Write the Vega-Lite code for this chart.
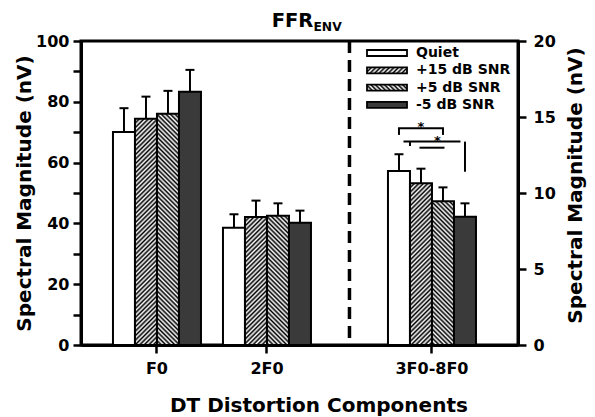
{
  "$schema": "https://vega.github.io/schema/vega-lite/v6.json",
  "autosize": {"type": "none"},
  "width": 437,
  "height": 304,
  "padding": {"left": 81, "top": 41, "right": 77, "bottom": 72},
  "background": "white",
  "params": [
    {"name": "stripes", "value": [{"offset":0,"color":"#000"},{"offset":0.0083,"color":"#fff"},{"offset":0.0167,"color":"#000"},{"offset":0.025,"color":"#fff"},{"offset":0.0333,"color":"#000"},{"offset":0.0417,"color":"#fff"},{"offset":0.05,"color":"#000"},{"offset":0.0583,"color":"#fff"},{"offset":0.0667,"color":"#000"},{"offset":0.075,"color":"#fff"},{"offset":0.0833,"color":"#000"},{"offset":0.0917,"color":"#fff"},{"offset":0.1,"color":"#000"},{"offset":0.1083,"color":"#fff"},{"offset":0.1167,"color":"#000"},{"offset":0.125,"color":"#fff"},{"offset":0.1333,"color":"#000"},{"offset":0.1417,"color":"#fff"},{"offset":0.15,"color":"#000"},{"offset":0.1583,"color":"#fff"},{"offset":0.1667,"color":"#000"},{"offset":0.175,"color":"#fff"},{"offset":0.1833,"color":"#000"},{"offset":0.1917,"color":"#fff"},{"offset":0.2,"color":"#000"},{"offset":0.2083,"color":"#fff"},{"offset":0.2167,"color":"#000"},{"offset":0.225,"color":"#fff"},{"offset":0.2333,"color":"#000"},{"offset":0.2417,"color":"#fff"},{"offset":0.25,"color":"#000"},{"offset":0.2583,"color":"#fff"},{"offset":0.2667,"color":"#000"},{"offset":0.275,"color":"#fff"},{"offset":0.2833,"color":"#000"},{"offset":0.2917,"color":"#fff"},{"offset":0.3,"color":"#000"},{"offset":0.3083,"color":"#fff"},{"offset":0.3167,"color":"#000"},{"offset":0.325,"color":"#fff"},{"offset":0.3333,"color":"#000"},{"offset":0.3417,"color":"#fff"},{"offset":0.35,"color":"#000"},{"offset":0.3583,"color":"#fff"},{"offset":0.3667,"color":"#000"},{"offset":0.375,"color":"#fff"},{"offset":0.3833,"color":"#000"},{"offset":0.3917,"color":"#fff"},{"offset":0.4,"color":"#000"},{"offset":0.4083,"color":"#fff"},{"offset":0.4167,"color":"#000"},{"offset":0.425,"color":"#fff"},{"offset":0.4333,"color":"#000"},{"offset":0.4417,"color":"#fff"},{"offset":0.45,"color":"#000"},{"offset":0.4583,"color":"#fff"},{"offset":0.4667,"color":"#000"},{"offset":0.475,"color":"#fff"},{"offset":0.4833,"color":"#000"},{"offset":0.4917,"color":"#fff"},{"offset":0.5,"color":"#000"},{"offset":0.5083,"color":"#fff"},{"offset":0.5167,"color":"#000"},{"offset":0.525,"color":"#fff"},{"offset":0.5333,"color":"#000"},{"offset":0.5417,"color":"#fff"},{"offset":0.55,"color":"#000"},{"offset":0.5583,"color":"#fff"},{"offset":0.5667,"color":"#000"},{"offset":0.575,"color":"#fff"},{"offset":0.5833,"color":"#000"},{"offset":0.5917,"color":"#fff"},{"offset":0.6,"color":"#000"},{"offset":0.6083,"color":"#fff"},{"offset":0.6167,"color":"#000"},{"offset":0.625,"color":"#fff"},{"offset":0.6333,"color":"#000"},{"offset":0.6417,"color":"#fff"},{"offset":0.65,"color":"#000"},{"offset":0.6583,"color":"#fff"},{"offset":0.6667,"color":"#000"},{"offset":0.675,"color":"#fff"},{"offset":0.6833,"color":"#000"},{"offset":0.6917,"color":"#fff"},{"offset":0.7,"color":"#000"},{"offset":0.7083,"color":"#fff"},{"offset":0.7167,"color":"#000"},{"offset":0.725,"color":"#fff"},{"offset":0.7333,"color":"#000"},{"offset":0.7417,"color":"#fff"},{"offset":0.75,"color":"#000"},{"offset":0.7583,"color":"#fff"},{"offset":0.7667,"color":"#000"},{"offset":0.775,"color":"#fff"},{"offset":0.7833,"color":"#000"},{"offset":0.7917,"color":"#fff"},{"offset":0.8,"color":"#000"},{"offset":0.8083,"color":"#fff"},{"offset":0.8167,"color":"#000"},{"offset":0.825,"color":"#fff"},{"offset":0.8333,"color":"#000"},{"offset":0.8417,"color":"#fff"},{"offset":0.85,"color":"#000"},{"offset":0.8583,"color":"#fff"},{"offset":0.8667,"color":"#000"},{"offset":0.875,"color":"#fff"},{"offset":0.8833,"color":"#000"},{"offset":0.8917,"color":"#fff"},{"offset":0.9,"color":"#000"},{"offset":0.9083,"color":"#fff"},{"offset":0.9167,"color":"#000"},{"offset":0.925,"color":"#fff"},{"offset":0.9333,"color":"#000"},{"offset":0.9417,"color":"#fff"},{"offset":0.95,"color":"#000"},{"offset":0.9583,"color":"#fff"},{"offset":0.9667,"color":"#000"},{"offset":0.975,"color":"#fff"},{"offset":0.9833,"color":"#000"},{"offset":0.9917,"color":"#fff"},{"offset":1,"color":"#000"}]}
  ],
  "title": {
    "text": "FFR",
    "frame": "group",
    "anchor": "middle",
    "align": "left",
    "baseline": "bottom",
    "dx": -27.8,
    "dy": 30,
    "offset": 0,
    "font": "DejaVu Sans",
    "fontSize": 19.5,
    "fontWeight": "bold",
    "color": "black"
  },
  "config": {
    "view": {"stroke": "black", "strokeWidth": 3},
    "font": "DejaVu Sans",
    "axis": {
      "grid": false,
      "domainColor": "black",
      "domainWidth": 3,
      "tickColor": "black",
      "tickWidth": 2.5,
      "tickSize": 8,
      "labelColor": "black",
      "labelFont": "DejaVu Sans",
      "labelFontWeight": "bold",
      "labelFontSize": 16,
      "titleColor": "black",
      "titleFont": "DejaVu Sans",
      "titleFontWeight": "bold",
      "titleFontSize": 20
    }
  },
  "datasets": {
    "leftbars": [
      {"component": "F0", "condition": "Quiet", "value": 70.1, "hi": 77.9},
      {"component": "F0", "condition": "+15 dB SNR", "value": 74.4, "hi": 81.7},
      {"component": "F0", "condition": "+5 dB SNR", "value": 76.1, "hi": 83.6},
      {"component": "F0", "condition": "-5 dB SNR", "value": 83.3, "hi": 90.5},
      {"component": "2F0", "condition": "Quiet", "value": 38.6, "hi": 43.0},
      {"component": "2F0", "condition": "+15 dB SNR", "value": 42.1, "hi": 47.5},
      {"component": "2F0", "condition": "+5 dB SNR", "value": 42.5, "hi": 46.6},
      {"component": "2F0", "condition": "-5 dB SNR", "value": 40.2, "hi": 44.2}
    ],
    "rightbars": [
      {"component": "3F0-8F0", "condition": "Quiet", "value": 11.45, "hi": 12.55},
      {"component": "3F0-8F0", "condition": "+15 dB SNR", "value": 10.64, "hi": 11.6},
      {"component": "3F0-8F0", "condition": "+5 dB SNR", "value": 9.45, "hi": 10.37},
      {"component": "3F0-8F0", "condition": "-5 dB SNR", "value": 8.44, "hi": 9.32}
    ],
    "annot": [
      {"part": "leg", "component": "3F0-8F0", "condition": "Quiet", "value": 13.82, "hi": 14.26},
      {"part": "leg", "component": "3F0-8F0", "condition": "+5 dB SNR", "value": 13.82, "hi": 14.26},
      {"part": "leg", "component": "3F0-8F0", "condition": "-5 dB SNR", "value": 11.4, "hi": 13.38},
      {"part": "legB", "component": "3F0-8F0", "condition": "Quiet", "value": 13.09, "hi": 13.38},
      {"part": "bar1", "component": "3F0-8F0", "condition": "+15 dB SNR", "value": 14.26},
      {"part": "bar2", "component": "3F0-8F0", "condition": "+5 dB SNR", "value": 13.38},
      {"part": "bar3", "component": "3F0-8F0", "condition": "Quiet", "value": 12.98},
      {"part": "star1", "component": "3F0-8F0", "condition": "+15 dB SNR", "value": 14.26},
      {"part": "star2", "component": "3F0-8F0", "condition": "+5 dB SNR", "value": 13.38},
      {"part": "env", "component": "2F0", "value": 20}
    ]
  },
  "layer": [
    {
      "data": {"name": "leftbars"},
      "encoding": {
        "x": {
          "field": "component", "type": "nominal",
          "scale": {"type": "band", "domain": ["F0", "s1", "2F0", "s2", "s3", "3F0-8F0"], "paddingInner": 0, "paddingOuter": 0.9727, "align": 0.453},
          "axis": {"values": ["F0", "2F0", "3F0-8F0"], "title": "DT Distortion Components", "labelAngle": 0, "labelPadding": 7, "titlePadding": 19, "titleX": 237.4}
        },
        "xOffset": {
          "field": "condition", "type": "nominal",
          "scale": {"domain": ["Quiet", "+15 dB SNR", "+5 dB SNR", "-5 dB SNR"], "range": [-16.5, 71.5], "paddingInner": 0, "paddingOuter": 0}
        },
        "y": {
          "field": "value", "type": "quantitative", "stack": null,
          "scale": {"domain": [0, 100], "nice": false},
          "axis": {"orient": "left", "values": [0, 10, 20, 30, 40, 50, 60, 70, 80, 90, 100], "labelExpr": "datum.value % 20 === 0 ? datum.label : ''", "title": "Spectral Magnitude (nV)", "labelPadding": 4, "titlePadding": 1}
        }
      },
      "layer": [
        {
          "mark": {"type": "bar", "strokeWidth": 2, "fill": {"expr": "datum.condition ? (datum.condition === 'Quiet' ? '#ffffff' : datum.condition === '-5 dB SNR' ? '#3a3a3a' : {gradient: 'linear', x1: datum.condition === '+15 dB SNR' ? 0 : 1, y1: 0, x2: datum.condition === '+15 dB SNR' ? 5973 / (pow(3.04 * datum.value, 2) + 484) : 1 - 5973 / (pow(3.04 * datum.value, 2) + 484), y2: 271.5 * 3.04 * datum.value / (pow(3.04 * datum.value, 2) + 484), stops: stripes}) : (datum.value === 'Quiet' ? '#ffffff' : datum.value === '-5 dB SNR' ? '#3a3a3a' : datum.value === '+15 dB SNR' ? {gradient: 'linear', x1: 0, y1: 0, x2: 6.638, y2: 0.9957, stops: stripes} : {gradient: 'linear', x1: 1, y1: 0, x2: -5.638, y2: 0.9957, stops: stripes})"}},
          "encoding": {
            "stroke": {
              "field": "condition", "type": "nominal",
              "scale": {"domain": ["Quiet", "+15 dB SNR", "+5 dB SNR", "-5 dB SNR"], "range": ["#000000", "#000000", "#000000", "#000000"]},
              "legend": {
                "title": null, "orient": "none", "legendX": 299, "legendY": 5, "padding": 0,
                "symbolType": "M-4,-0.6H4V0.6H-4Z", "symbolSize": 100, "symbolStrokeWidth": 1.8,
                "labelFont": "DejaVu Sans", "labelFontWeight": "bold", "labelFontSize": 14, "labelColor": "black", "labelOffset": 22, "rowPadding": 3.3
              }
            }
          }
        },
        {
          "mark": {"type": "rule", "color": "black", "strokeWidth": 2},
          "encoding": {"y2": {"field": "hi"}}
        },
        {
          "mark": {"type": "tick", "color": "black", "size": 9, "thickness": 2, "opacity": 1},
          "encoding": {"y": {"field": "hi", "type": "quantitative"}}
        }
      ]
    },
    {
      "data": {"name": "rightbars"},
      "encoding": {
        "x": {"field": "component", "type": "nominal"},
        "xOffset": {"field": "condition", "type": "nominal"},
        "y": {
          "field": "value", "type": "quantitative", "stack": null,
          "scale": {"domain": [0, 20], "nice": false},
          "axis": {"orient": "right", "values": [0, 5, 10, 15, 20], "title": "Spectral Magnitude (nV)", "titleAngle": 270, "titleBaseline": "top", "titlePadding": 10, "labelPadding": 7, "titleY": 144}
        }
      },
      "layer": [
        {
          "mark": {"type": "bar", "strokeWidth": 2, "fill": {"expr": "datum.condition ? (datum.condition === 'Quiet' ? '#ffffff' : datum.condition === '-5 dB SNR' ? '#3a3a3a' : {gradient: 'linear', x1: datum.condition === '+15 dB SNR' ? 0 : 1, y1: 0, x2: datum.condition === '+15 dB SNR' ? 5973 / (pow(15.2 * datum.value, 2) + 484) : 1 - 5973 / (pow(15.2 * datum.value, 2) + 484), y2: 271.5 * 15.2 * datum.value / (pow(15.2 * datum.value, 2) + 484), stops: stripes}) : (datum.value === 'Quiet' ? '#ffffff' : datum.value === '-5 dB SNR' ? '#3a3a3a' : datum.value === '+15 dB SNR' ? {gradient: 'linear', x1: 0, y1: 0, x2: 6.638, y2: 0.9957, stops: stripes} : {gradient: 'linear', x1: 1, y1: 0, x2: -5.638, y2: 0.9957, stops: stripes})"}},
          "encoding": {"stroke": {"field": "condition", "type": "nominal"}}
        },
        {
          "mark": {"type": "rule", "color": "black", "strokeWidth": 2},
          "encoding": {"y2": {"field": "hi"}}
        },
        {
          "mark": {"type": "tick", "color": "black", "size": 9, "thickness": 2, "opacity": 1},
          "encoding": {"y": {"field": "hi", "type": "quantitative"}}
        },
        {
          "data": {"name": "annot"},
          "transform": [{"filter": "datum.part === 'leg'"}],
          "mark": {"type": "rule", "color": "black", "strokeWidth": 2},
          "encoding": {"y2": {"field": "hi"}}
        },
        {
          "data": {"name": "annot"},
          "transform": [{"filter": "datum.part === 'bar1'"}],
          "mark": {"type": "tick", "color": "black", "size": 46, "thickness": 2, "opacity": 1}
        },
        {
          "data": {"name": "annot"},
          "transform": [{"filter": "datum.part === 'star1'"}],
          "mark": {"type": "text", "text": "*", "font": "DejaVu Sans", "fontSize": 13, "fontWeight": "bold", "baseline": "alphabetic", "dy": 3, "color": "black"}
        }
      ]
    },
    {
      "data": {"name": "annot"},
      "encoding": {
        "x": {"field": "component", "type": "nominal"},
        "y": {"field": "value", "type": "quantitative", "scale": {"domain": [0, 20], "nice": false}, "axis": null}
      },
      "layer": [
        {
          "transform": [{"filter": "datum.part === 'legB'"}],
          "mark": {"type": "rule", "color": "black", "strokeWidth": 2},
          "encoding": {"x": {"field": "component", "type": "nominal", "bandPosition": 0.1}, "y2": {"field": "hi"}}
        },
        {
          "transform": [{"filter": "datum.part === 'bar3'"}],
          "mark": {"type": "tick", "color": "black", "size": 25, "thickness": 2, "opacity": 1},
          "encoding": {"x": {"field": "component", "type": "nominal", "bandPosition": 0.1}}
        },
        {
          "transform": [{"filter": "datum.part === 'bar2'"}],
          "mark": {"type": "tick", "color": "black", "size": 57, "thickness": 2, "opacity": 1},
          "encoding": {"x": {"field": "component", "type": "nominal", "bandPosition": 0.6}}
        },
        {
          "transform": [{"filter": "datum.part === 'star2'"}],
          "mark": {"type": "text", "text": "*", "font": "DejaVu Sans", "fontSize": 13, "fontWeight": "bold", "baseline": "alphabetic", "dy": 3, "color": "black"},
          "encoding": {"x": {"field": "component", "type": "nominal", "bandPosition": 0.6}}
        },
        {
          "transform": [{"filter": "datum.part === 'env'"}],
          "mark": {"type": "text", "text": "ENV", "font": "DejaVu Sans", "fontSize": 12.3, "fontWeight": "bold", "baseline": "alphabetic", "align": "left", "dy": -10.3, "color": "black"},
          "encoding": {"x": {"field": "component", "type": "nominal", "bandPosition": 1.345}}
        }
      ]
    },
    {
      "data": {"values": [{}]},
      "mark": {"type": "rule", "color": "black", "strokeWidth": 3.5, "strokeDash": [12, 7]},
      "encoding": {"x": {"datum": "s3", "type": "nominal", "bandPosition": 0}}
    }
  ],
  "resolve": {"scale": {"y": "independent"}, "axis": {"y": "independent"}}
}
